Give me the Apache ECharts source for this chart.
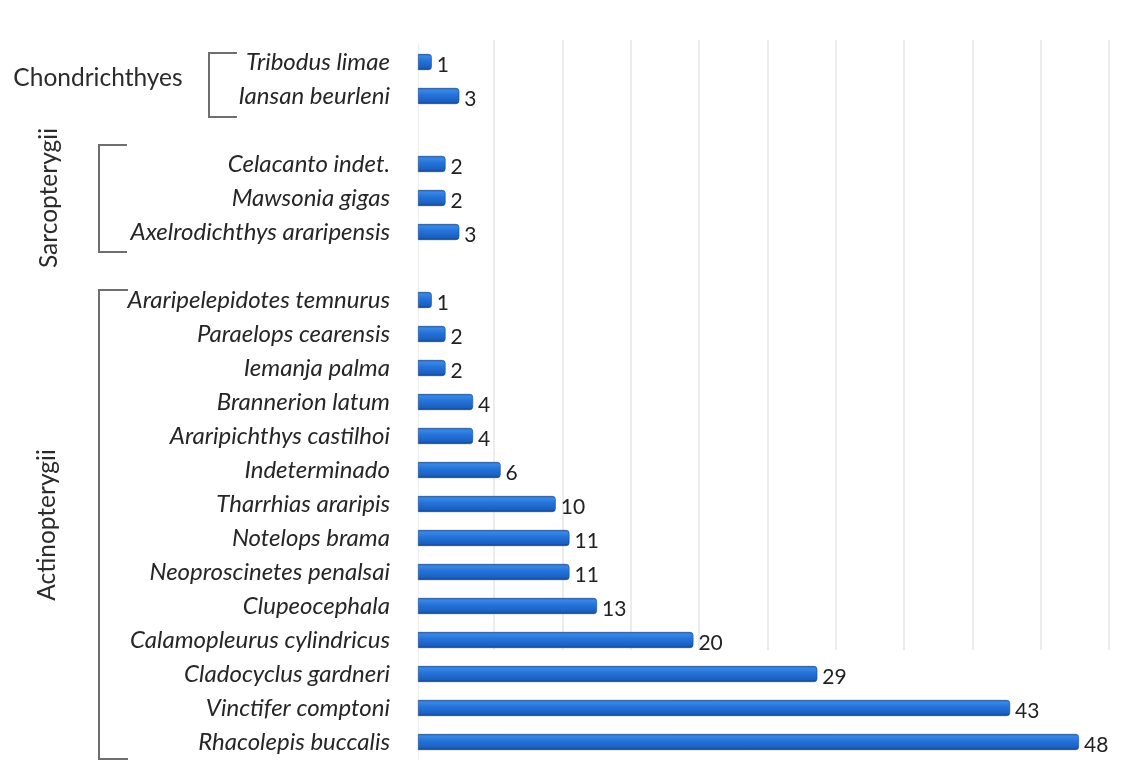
<!DOCTYPE html>
<html>
<head>
<meta charset="utf-8">
<script src="https://cdn.jsdelivr.net/npm/echarts@6/dist/echarts.min.js"></script>
<style>
html,body{margin:0;padding:0;background:#fff;}
#chart{width:1124px;height:782px;}
</style>
</head>
<body>
<div id="chart"></div>
<script>
// ---- data ----
const chondNames = ['Tribodus limae', 'Iansan beurleni'];
const chondValues = [1, 3];
const sarcoNames = ['Celacanto indet.', 'Mawsonia gigas', 'Axelrodichthys araripensis'];
const sarcoValues = [2, 2, 3];
const actinoNames = ['Araripelepidotes temnurus', 'Paraelops cearensis', 'Iemanja palma', 'Brannerion latum',
  'Araripichthys castilhoi', 'Indeterminado', 'Tharrhias araripis', 'Notelops brama', 'Neoproscinetes penalsai',
  'Clupeocephala', 'Calamopleurus cylindricus', 'Cladocyclus gardneri', 'Vinctifer comptoni', 'Rhacolepis buccalis'];
const actinoValues = [1, 2, 2, 4, 4, 6, 10, 11, 11, 13, 20, 29, 43, 48];
const groupNames = ['Chondrichthyes', 'Sarcopterygii', 'Actinopterygii'];

// gaps between groups are empty category slots
const categories = [...chondNames, ' ', ...sarcoNames, '  ', ...actinoNames];
const values = [...chondValues, null, ...sarcoValues, null, ...actinoValues];

const chart = echarts.init(document.getElementById('chart'));
const barColor = new echarts.graphic.LinearGradient(0, 0, 0, 1, [
  {offset: 0, color: '#1a4f98'},
  {offset: 0.12, color: '#3a88e6'},
  {offset: 0.45, color: '#2472d8'},
  {offset: 0.85, color: '#1b5fc2'},
  {offset: 1, color: '#123c7a'}
]);

chart.setOption({
  animation: false,
  backgroundColor: '#fff',
  grid: [
    {left: 418, top: 45, width: 688.5, height: 714, containLabel: false},
    {left: 494, top: 40, width: 615, height: 610, containLabel: false}
  ],
  xAxis: [
    {type: 'value', gridIndex: 0, min: 0, max: 50, interval: 5, show: false, splitLine: {show: false}},
    {type: 'value', gridIndex: 1, min: 5, max: 50, interval: 5,
     axisLine: {show: false}, axisTick: {show: false}, axisLabel: {show: false},
     splitLine: {show: true, lineStyle: {color: '#e6e6e6', width: 1.5}}}
  ],
  yAxis: [
    {type: 'category', gridIndex: 0, data: categories, inverse: true,
     axisLine: {show: true, lineStyle: {color: '#ededed', width: 1}},
     axisTick: {show: false},
     axisLabel: {margin: 28, fontFamily: 'Lato', fontStyle: 'italic', fontSize: 24, color: '#262626'}},
    {type: 'category', gridIndex: 1, data: ['a'], show: false}
  ],
  series: [{
    type: 'bar',
    xAxisIndex: 0, yAxisIndex: 0,
    data: values,
    barWidth: 16,
    itemStyle: {color: barColor, borderRadius: [0, 3, 3, 0], borderColor: '#174a92', borderWidth: 0.6},
    label: {show: true, position: 'right', distance: 5, offset: [0, 3],
      fontFamily: 'Lato', fontSize: 21, color: '#222'}
  }]
});

// group brackets and labels, placed from the category scale
function yOf(name) { return chart.convertToPixel({yAxisIndex: 0}, name); }
const lineStyle = {stroke: '#6e6e6e', lineWidth: 2, fill: null};
function bracket(x, xEnd, y1, y2) {
  return {type: 'polyline', silent: true,
    shape: {points: [[xEnd, y1], [x, y1], [x, y2], [xEnd, y2]]}, style: lineStyle};
}
const cTop = yOf(chondNames[0]), cBot = yOf(chondNames[chondNames.length - 1]);
const sTop = yOf(sarcoNames[0]), sBot = yOf(sarcoNames[sarcoNames.length - 1]);
const aTop = yOf(actinoNames[0]), aBot = yOf(actinoNames[actinoNames.length - 1]);
const gFont = {fontFamily: 'Lato', fontSize: 24.5, fill: '#2b2b2b'};

chart.setOption({
  graphic: [
    bracket(209, 237, cTop - 9, cBot + 21),
    bracket(99, 127, sTop - 19, sBot + 20),
    bracket(99, 128, aTop - 10, aBot + 17),
    {type: 'text', silent: true, x: 98, y: (cTop + cBot) / 2 - 1,
     style: Object.assign({text: groupNames[0], textAlign: 'center', textVerticalAlign: 'middle'}, gFont)},
    {type: 'text', silent: true, x: 49, y: (sTop + sBot) / 2, rotation: Math.PI / 2,
     style: Object.assign({text: groupNames[1], textAlign: 'center', textVerticalAlign: 'middle'}, gFont)},
    {type: 'text', silent: true, x: 47, y: (aTop + aBot) / 2 + 4, rotation: Math.PI / 2,
     style: Object.assign({text: groupNames[2], textAlign: 'center', textVerticalAlign: 'middle'}, gFont)}
  ]
});
</script>
</body>
</html>
